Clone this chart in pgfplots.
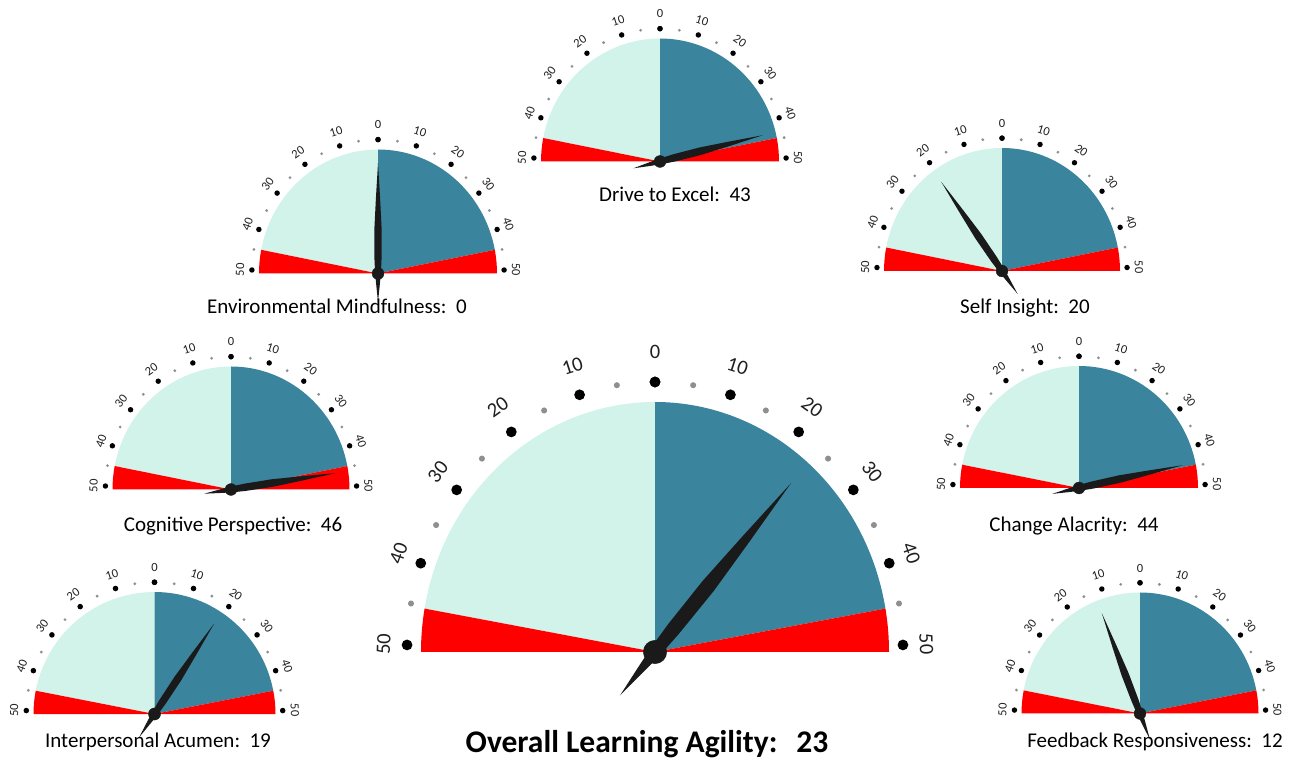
\documentclass[border=0pt]{standalone}
\usepackage{pgfplots}
\pgfplotsset{compat=1.18}
\usepackage{fontspec}
\setmainfont{Carlito}
\definecolor{gLight}{HTML}{D1F3EA}
\definecolor{gTeal}{HTML}{3A849D}
\definecolor{gRed}{HTML}{FF0000}
\definecolor{gNeedle}{HTML}{1A1A1A}
\definecolor{gDot}{HTML}{8F8F8F}
\definecolor{gTick}{HTML}{1F1F1F}

\newcommand\np[2]{%
  \pgfmathsetmacro\px{(#1)*\gcs-(#2)*\gsn}%
  \pgfmathsetmacro\py{(#1)*\gsn+(#2)*\gcs}%
  \xdef\needlepath{\needlepath(\px,\py)}}

% #1 cx, #2 cy (from top), #3 rx, #4 ry, #5 value, #6 side, #7 red angle, #8 tick font size
\newcommand\gauge[8]{%
  \pgfmathsetmacro\ang{90-(#6)*1.77*(#5)}%
  \pgfmathsetmacro\gcs{cos(\ang)}%
  \pgfmathsetmacro\gsn{sin(\ang)}%
  \gdef\needlepath{}%
  \np{0.89}{0}\np{0.6}{0.018}\np{0.35}{0.031}\np{0.12}{0.03}\np{0}{0.024}\np{-0.1}{0.014}\np{-0.23}{0}%
  \np{-0.1}{-0.014}\np{0}{-0.024}\np{0.12}{-0.03}\np{0.35}{-0.031}\np{0.6}{-0.018}%
  \pgfmathsetmacro\rbk{0.023*#3}%
  \pgfmathsetmacro\rgy{0.013*#3}%
  \pgfmathsetmacro\hub{0.05*#3}%
  \begin{axis}[hide axis, clip=false, x=#3pt, y=#4pt,
      xmin=-1.3, xmax=1.3, ymin=-0.3, ymax=1.3,
      anchor=origin, at={(#1pt,{760pt-#2pt})}]
    \fill[gLight] (axis cs:0,0) -- (axis cs:0,1) arc[start angle=90, end angle={180-#7}, x radius=#3pt, y radius=#4pt] -- cycle;
    \fill[gTeal] (axis cs:0,0) -- (axis cs:0,1) arc[start angle=90, end angle=#7, x radius=#3pt, y radius=#4pt] -- cycle;
    \fill[gRed] (axis cs:0,0) -- (axis cs:1,0) arc[start angle=0, end angle=#7, x radius=#3pt, y radius=#4pt] -- cycle;
    \fill[gRed] (axis cs:0,0) -- (axis cs:-1,0) arc[start angle=180, end angle={180-#7}, x radius=#3pt, y radius=#4pt] -- cycle;
    \pgfplotsinvokeforeach{0,10,20,30,40,50}{%
      \fill[black] (axis cs:{1.06*cos(90-1.77*##1)},{1.08*sin(90-1.77*##1)}) circle[radius=\rbk pt];
      \fill[black] (axis cs:{1.06*cos(90+1.77*##1)},{1.08*sin(90+1.77*##1)}) circle[radius=\rbk pt];
    }
    \pgfplotsinvokeforeach{5,15,25,35,45}{%
      \fill[gDot] (axis cs:{1.06*cos(90-1.77*##1)},{1.08*sin(90-1.77*##1)}) circle[radius=\rgy pt];
      \fill[gDot] (axis cs:{1.06*cos(90+1.77*##1)},{1.08*sin(90+1.77*##1)}) circle[radius=\rgy pt];
    }
    \node[inner sep=0pt, font=\fontsize{#8}{#8}\selectfont, text=gTick] at (axis cs:0,1.2) {0};
    \pgfplotsinvokeforeach{10,20,30,40,50}{%
      \node[inner sep=0pt, font=\fontsize{#8}{#8}\selectfont, text=gTick, rotate={-1.77*##1}] at (axis cs:{1.16*cos(90-1.77*##1)},{1.2*sin(90-1.77*##1)}) {##1};
      \node[inner sep=0pt, font=\fontsize{#8}{#8}\selectfont, text=gTick, rotate={1.77*##1}] at (axis cs:{1.16*cos(90+1.77*##1)},{1.2*sin(90+1.77*##1)}) {##1};
    }
    \edef\tmp{\noexpand\addplot[fill=gNeedle, draw=none] coordinates {\needlepath};}\tmp
    \addplot[only marks, mark=*, mark size=\hub pt, color=gNeedle] coordinates {(0,0)};
  \end{axis}}

\begin{document}
\begin{tikzpicture}
\gauge{660}{161.5}{119}{123}{43}{1}{11}{12.5}
\gauge{378}{273.5}{119}{124}{0}{1}{11}{12.5}
\gauge{1002}{271}{118}{123}{20}{-1}{11}{12.5}
\gauge{231}{489.5}{118.5}{123}{46}{1}{11}{12.5}
\gauge{1079}{488}{119}{122}{44}{1}{11}{12.5}
\gauge{154.5}{714}{121}{122}{19}{1}{11}{12.5}
\gauge{1140}{713.5}{118.5}{121}{12}{-1}{11}{12.5}
\gauge{655}{652}{234}{250}{23}{1}{10}{20.5}
\begin{scope}[every node/.style={anchor=base, inner sep=0pt, font=\fontsize{21}{25}\selectfont}]
\node at (675pt,{760pt-201.7pt}) {Drive to Excel:\hspace{0.45em}43};
\node at (337pt,{760pt-314pt}) {Environmental Mindfulness:\hspace{0.45em}0};
\node at (1025pt,{760pt-314pt}) {Self Insight:\hspace{0.45em}20};
\node at (233pt,{760pt-531.7pt}) {Cognitive Perspective:\hspace{0.45em}46};
\node at (1074pt,{760pt-531.7pt}) {Change Alacrity:\hspace{0.45em}44};
\node at (158pt,{760pt-747pt}) {Interpersonal Acumen:\hspace{0.45em}19};
\node at (1155pt,{760pt-747pt}) {Feedback Responsiveness:\hspace{0.45em}12};
\node[font=\fontsize{31.5}{36}\selectfont\bfseries] at (647pt,{760pt-752pt}) {Overall Learning Agility:\hspace{0.6em}23};
\end{scope}
\pgfresetboundingbox
\path (0,0) rectangle (1292pt,760pt);
\end{tikzpicture}
\end{document}
